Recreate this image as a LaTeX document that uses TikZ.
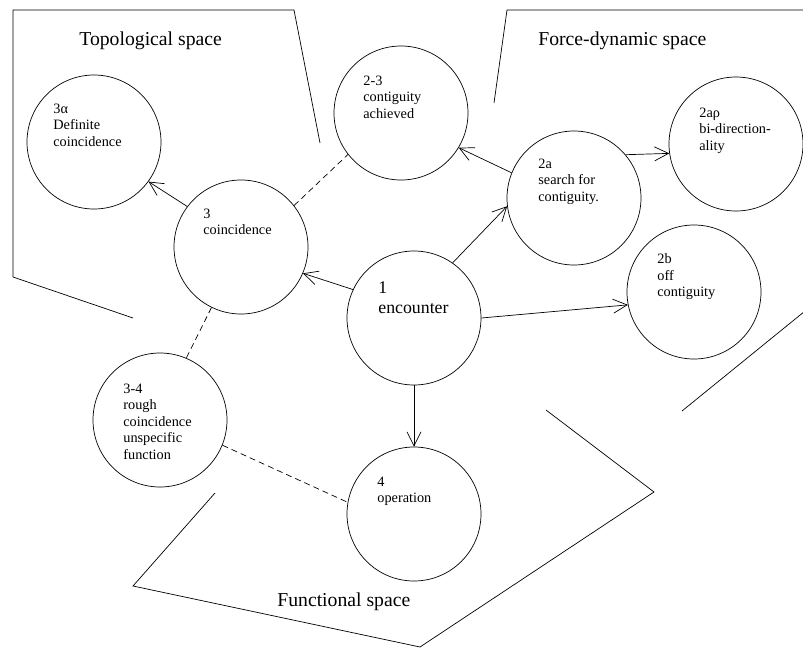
\documentclass[tikz,border=0pt]{standalone}
\usepackage{fontspec}
\setmainfont{Liberation Serif}
\usetikzlibrary{arrows.meta}
\tikzset{
	state/.style={draw, circle, minimum size=134pt, inner sep=0pt},
	lbl/.style={anchor=north west, inner sep=0pt, align=left,
			font=\fontsize{14.3}{16.6}\selectfont},
	title/.style={anchor=base west, inner sep=0pt,
			font=\fontsize{19.7}{22}\selectfont},
	dep/.style={dash pattern=on 6pt off 4pt}
}

\begin{document}
\begin{tikzpicture}[x=1pt, y=-1pt, line width=0.7pt,
		>={Straight Barb[length=14pt,width=14pt]}]
			\useasboundingbox (0,0) rectangle (803,648);

			% Define the spaces
			\draw (320,143) -- (294,10) -- (13,10) -- (13,277) -- (133,318);
			\draw (494,103) -- (507,10) -- (810,10);
			\draw (810,307) -- (682,411);
			\draw (215,493) -- (133,586) -- (420,647) -- (654,492) -- (546,410);

			\node[title] (ttop) at (79,45) {Topological space};
			\node[title] (tforce) at (538,45) {Force-dynamic space};
			\node[title] (tfun) at (277,606) {Functional space};

			% The stages
			\node[state] (c3a) at (94,142) {};
			\node[state] (c3) at (241,247) {};
			\node[state] (c23) at (401,113) {};
			\node[state] (c2a) at (574,198) {};
			\node[state] (c2ar) at (736,144) {};
			\node[state] (c2b) at (694,292) {};
			\node[state] (c1) at (414,318) {};
			\node[state] (c34) at (160,420) {};
			\node[state] (c4) at (414,514) {};

			\node[lbl] (l3a) at (53,103.3) {3α\\Definite\\coincidence};
			\node[lbl] (l3) at (203,208.3) {3\\coincidence};
			\node[lbl] (l23) at (363,75.3) {2-3\\contiguity\\achieved};
			\node[lbl] (l2a) at (538,158.3) {2a\\search for\\contiguity.};
			\node[lbl] (l2ar) at (699,107.3) {2aρ\\bi-direction-\\ality};
			\node[lbl] (l2b) at (657,253.3) {2b\\off\\contiguity};
			\node[lbl, font=\fontsize{17.8}{20}\selectfont] (l1) at (378,281) {1\\encounter};
			\node[lbl] (l34) at (123,383.3) {3-4\\rough\\coincidence\\unspecific\\function};
			\node[lbl] (l4) at (377,476.3) {4\\operation};

			% Add the transitions
			\draw[->] (c1.155) -- (c3.-23);
			\draw[->] (c3.143) -- (c3a.-36);
			\draw[dep] (c3.38) -- (c23.-142);
			\draw[dep] (c3.-116) -- (c34.67);
			\draw[dep] (c34.-22) -- (c4.170);
			\draw[->] (c1.55) -- (c2a.-173);
			\draw[->] (c2a.158) -- (c23.-31);
			\draw[->] (c2a.40) -- (c2ar.-172);
			\draw[->] (c1.0) -- (c2b.-169);
			\draw[->] (c1.-90) -- (c4.90);

		\end{tikzpicture}
\end{document}
